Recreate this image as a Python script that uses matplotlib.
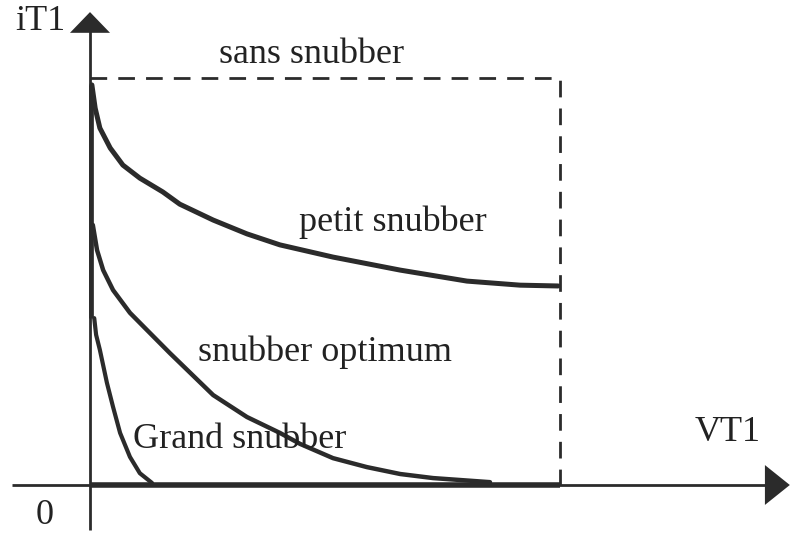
import numpy as np
import matplotlib.pyplot as plt

# Normalised units: VT1 = 1 at the end of switching, iT1 = 1 at full load current
petit_v = [0.004, 0.011, 0.021, 0.043, 0.070, 0.106, 0.155, 0.191, 0.262, 0.334,
           0.404, 0.517, 0.660, 0.802, 0.915, 0.996]
petit_i = [0.983, 0.926, 0.877, 0.828, 0.786, 0.754, 0.720, 0.690, 0.651, 0.617,
           0.590, 0.560, 0.528, 0.501, 0.491, 0.489]

optimum_v = [0.006, 0.015, 0.028, 0.049, 0.085, 0.121, 0.170, 0.262, 0.334, 0.404,
             0.447, 0.517, 0.589, 0.660, 0.730, 0.851]
optimum_i = [0.639, 0.577, 0.528, 0.479, 0.423, 0.381, 0.324, 0.221, 0.167, 0.128,
             0.101, 0.066, 0.044, 0.027, 0.017, 0.007]

grand_v = [0.009, 0.013, 0.021, 0.036, 0.049, 0.064, 0.085, 0.106, 0.132]
grand_i = [0.410, 0.369, 0.332, 0.251, 0.192, 0.128, 0.069, 0.029, 0.005]

# without snubber: full current until full voltage (rectangle)
sans_v = [0.0, 1.0, 1.0]
sans_i = [1.0, 1.0, 0.0]

ink = '#2b2b2b'
serif = ['Liberation Serif', 'DejaVu Serif']

fig = plt.figure(figsize=(7.92, 5.36), dpi=100)
ax = fig.add_axes([0, 0, 1, 1])
ax.set_xlim(-90 / 470, 702 / 470)
ax.set_ylim(-51 / 407, 485 / 407)
ax.axis('off')

# axes with arrow heads
ax.plot([-0.166, 1.44], [0, 0], color=ink, lw=2.0, solid_capstyle='butt')
ax.plot([0, 0], [-0.111, 1.12], color=ink, lw=2.0, solid_capstyle='butt')
ax.fill([1.436, 1.489, 1.436], [-0.049, 0, 0.049], color=ink, lw=0)
ax.fill([-0.0426, 0, 0.0426], [1.111, 1.162, 1.111], color=ink, lw=0)

# heavy segments where the curves run along the axes
ax.plot([0, 1.0], [0, 0], color=ink, lw=4.0, solid_capstyle='butt')
ax.plot([0.003, 0.003], [grand_i[0], petit_i[0]], color=ink, lw=3.4,
        solid_capstyle='butt')

ax.plot(sans_v, sans_i, color=ink, lw=2.0, dashes=(6, 4))
line_kw = dict(color=ink, solid_capstyle='round', solid_joinstyle='round')
ax.plot(petit_v, petit_i, lw=3.6, **line_kw)
ax.plot(optimum_v, optimum_i, lw=3.2, **line_kw)
ax.plot(grand_v, grand_i, lw=3.0, **line_kw)

fs = 26
kw = dict(color='#222222', family=serif, fontsize=fs, ha='center', va='center')
ax.text(-0.106, 1.138, 'iT1', **kw)
ax.text(0.472, 1.057, 'sans snubber', **kw)
ax.text(0.645, 0.646, 'petit snubber', **kw)
ax.text(0.500, 0.327, 'snubber optimum', **kw)
ax.text(0.319, 0.111, 'Grand snubber', **kw)
ax.text(1.357, 0.130, 'VT1', **kw)
ax.text(-0.096, -0.074, '0', **kw)

fig.savefig('out.png', dpi=100)
